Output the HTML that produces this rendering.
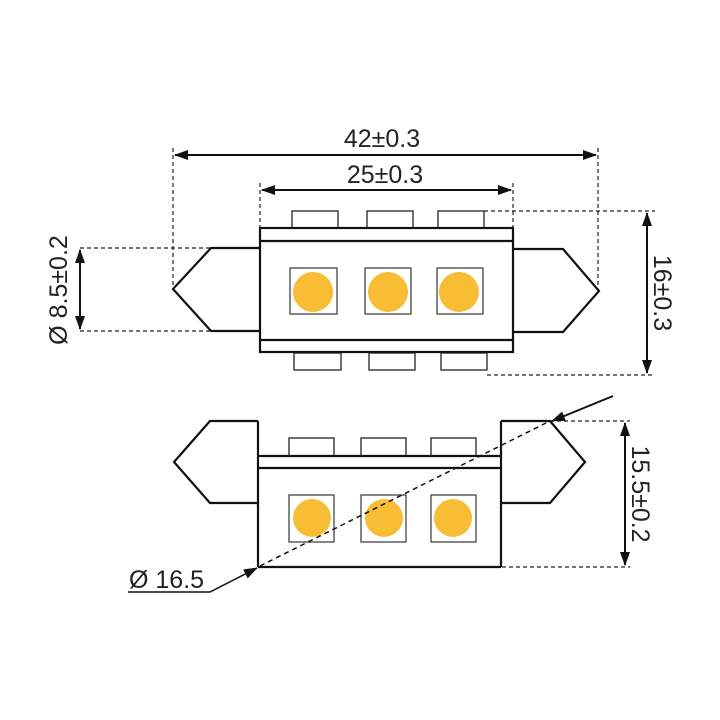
<!DOCTYPE html>
<html><head><meta charset="utf-8"><style>html,body{margin:0;background:#fff}svg{display:block}text{font-family:"Liberation Sans",sans-serif;font-size:25px;fill:#222}</style></head><body>
<svg width="720" height="720" viewBox="0 0 720 720">
<defs>
<marker id="a" markerWidth="14" markerHeight="10" refX="13" refY="5" orient="auto-start-reverse" markerUnits="userSpaceOnUse"><path d="M0,0 L14,5 L0,10 z" fill="#111"/></marker>
</defs>
<g stroke="#222" stroke-width="1.2" stroke-dasharray="4,3" fill="none">
<line x1="173" y1="148" x2="173" y2="287"/><line x1="598" y1="148" x2="598" y2="290"/>
<line x1="260" y1="183" x2="260" y2="228"/><line x1="513" y1="183" x2="513" y2="228"/>
<line x1="80" y1="248" x2="211" y2="248"/><line x1="80" y1="331" x2="211" y2="331"/>
<line x1="484" y1="211" x2="655" y2="211"/><line x1="487" y1="375" x2="655" y2="375"/>
<line x1="550" y1="421" x2="630" y2="421"/><line x1="502" y1="567" x2="630" y2="567"/>
</g>
<g stroke="#111" stroke-width="2" fill="none">
<line x1="175" y1="155" x2="596" y2="155" marker-start="url(#a)" marker-end="url(#a)"/>
<line x1="262" y1="190" x2="511" y2="190" marker-start="url(#a)" marker-end="url(#a)"/>
<line x1="80" y1="250" x2="80" y2="329" marker-start="url(#a)" marker-end="url(#a)"/>
<line x1="647" y1="213" x2="647" y2="373" marker-start="url(#a)" marker-end="url(#a)"/>
<line x1="625" y1="423" x2="625" y2="565" marker-start="url(#a)" marker-end="url(#a)"/>
<line x1="613" y1="396" x2="552" y2="421" marker-end="url(#a)"/>
<polyline points="128,592 210,592 257,568" marker-end="url(#a)" stroke-width="1.5"/>
</g>
<text x="382" y="147" text-anchor="middle">42±0.3</text>
<text x="385" y="183" text-anchor="middle">25±0.3</text>
<text transform="translate(67,290) rotate(-90)" text-anchor="middle">Ø 8.5±0.2</text>
<text transform="translate(654,293) rotate(90)" text-anchor="middle">16±0.3</text>
<text transform="translate(632,494) rotate(90)" text-anchor="middle">15.5±0.2</text>
<text x="129" y="588">Ø 16.5</text>
<g stroke="#222" fill="#fff" stroke-width="1.3">
<rect x="292" y="211" width="46" height="17"/><rect x="367" y="211" width="46" height="17"/><rect x="438" y="211" width="46" height="17"/>
<rect x="294" y="353" width="47" height="17"/><rect x="369" y="353" width="46" height="17"/><rect x="441" y="353" width="46" height="17"/>
</g>
<g stroke="#111" stroke-width="2.2" fill="none">
<polyline points="260,248 211,248 173,289 211,331 260,331"/>
<polyline points="513,249 563,249 599,291 563,332 513,332"/>
<rect x="260" y="228" width="253" height="124"/>
<line x1="260" y1="241" x2="513" y2="241"/><line x1="260" y1="340" x2="513" y2="340"/>
</g>
<g stroke="#444" stroke-width="1.3" fill="#fff">
<rect x="290" y="268" width="47" height="46"/><rect x="365" y="268" width="46" height="46"/><rect x="437" y="268" width="46" height="46"/>
</g>
<g fill="#f6bd35"><circle cx="313" cy="292" r="20"/><circle cx="388" cy="292" r="20"/><circle cx="459" cy="292" r="20"/></g>
<g stroke="#222" fill="#fff" stroke-width="1.3">
<rect x="289" y="438" width="45" height="18"/><rect x="361" y="438" width="45" height="18"/><rect x="431" y="438" width="45" height="18"/>
</g>
<g stroke="#111" stroke-width="2.2" fill="none">
<polyline points="258,421 210,421 174,462 210,503 258,503"/>
<polyline points="501,421 550,421 585,462 550,503 501,503"/>
<line x1="258" y1="421" x2="258" y2="567"/><line x1="501" y1="421" x2="501" y2="567"/>
<line x1="258" y1="567" x2="501" y2="567"/>
<line x1="258" y1="456" x2="501" y2="456"/><line x1="258" y1="468" x2="501" y2="468"/>
</g>
<g stroke="#444" stroke-width="1.3" fill="#fff">
<rect x="289" y="495" width="45" height="47"/><rect x="361" y="495" width="45" height="47"/><rect x="431" y="495" width="45" height="47"/>
</g>
<g fill="#f6bd35"><circle cx="312" cy="518" r="19"/><circle cx="384" cy="518" r="19"/><circle cx="453" cy="518" r="19"/></g>
<line x1="260" y1="566" x2="550" y2="421" stroke="#111" stroke-width="1.5" stroke-dasharray="5,4"/>
</svg>
</body></html>
